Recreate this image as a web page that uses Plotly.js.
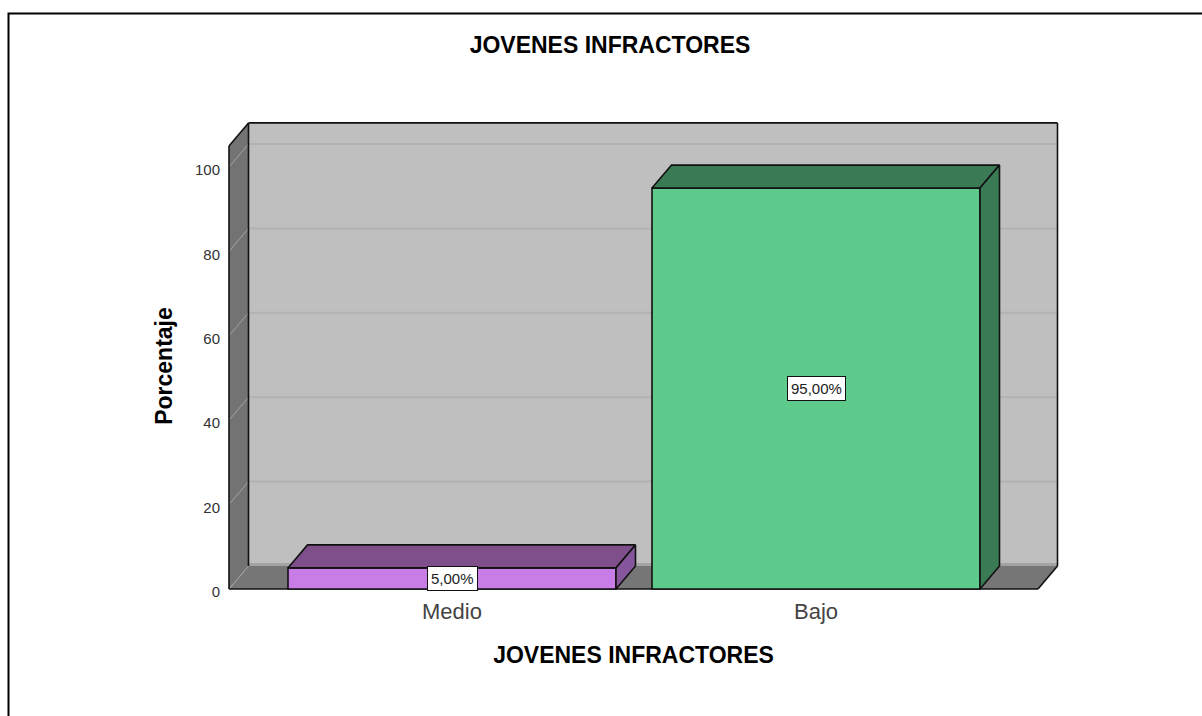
<!DOCTYPE html>
<html>
<head>
<meta charset="utf-8">
<script src="https://cdn.plot.ly/plotly-3.0.1.min.js"></script>
<style>html,body{margin:0;padding:0;background:#fff;overflow:hidden}</style>
</head>
<body>
<div id="chart" style="width:1202px;height:716px"></div>
<script>
const categories = ['Medio', 'Bajo'];
const values = [5, 95];
const yTicks = [0, 20, 40, 60, 80, 100];
const titleText = 'JOVENES INFRACTORES';
const xTitleText = 'JOVENES INFRACTORES';
const yTitleText = 'Porcentaje';
const frontColors = ['#c87de6', '#5ecb8c'];
const topColors = ['#7f4f8b', '#3a7a55'];
const sideColors = ['#85569b', '#3a7a55'];

// plot frame in pixels and the scales of the front plane
const W = 1202, H = 716;
const L = 206, R = 1061, T = 120, B = 612;
const xAt0 = 452, xPerUnit = 364, y0 = 589, yPerUnit = 4.22;
const dx = 19.5 / xPerUnit, dy = 23 / yPerUnit;      // depth of the 3D box
const barW = 328 / xPerUnit;
const xL = (229 - xAt0) / xPerUnit, xR = (1038 - xAt0) / xPerUnit, yTop = 105;
const xi = categories.map((c, i) => i);

const poly = (pts, fill, line) => ({
  type: 'path', layer: 'below', xref: 'x', yref: 'y',
  path: 'M' + pts.map(p => p[0] + ',' + p[1]).join('L') + 'Z',
  fillcolor: fill, line: line || {width: 0}
});
const seg = (x0, y0_, x1, y1, color, width) => ({
  type: 'line', layer: 'below', xref: 'x', yref: 'y', x0, y0: y0_, x1, y1,
  line: {color, width}
});
const px = x => (x - L) / (R - L), py = y => (B - y) / (B - T);

const shapes = [
  poly([[xL + dx, dy], [xR + dx, dy], [xR + dx, yTop + dy], [xL + dx, yTop + dy]], '#bfbfbf'),
  poly([[xL, 0], [xL + dx, dy], [xL + dx, yTop + dy], [xL, yTop]], '#737373'),
  poly([[xL, 0], [xR, 0], [xR + dx, dy], [xL + dx, dy]], '#767676')
];
yTicks.forEach(t => {
  if (t > 0) shapes.push(seg(xL + dx, t + dy, xR + dx, t + dy, '#b2b2b2', 2));
  shapes.push(seg(xL, t, xL + dx, t + dy, '#a3a3a3', 1));
});
shapes.push(seg(xL + dx, dy + 0.35, xR + dx, dy + 0.35, '#a3a3a3', 3));
[
  [xL, 0, xL, yTop], [xL, yTop, xL + dx, yTop + dy], [xL + dx, dy, xL + dx, yTop + dy],
  [xL + dx, yTop + dy, xR + dx, yTop + dy], [xR + dx, dy, xR + dx, yTop + dy],
  [xL, 0, xR, 0], [xR, 0, xR + dx, dy]
].forEach(s => shapes.push(seg(s[0], s[1], s[2], s[3], '#111', 1.6)));
// outer frame of the picture: its right and bottom edges fall outside the page
shapes.push({type: 'rect', xref: 'paper', yref: 'paper', layer: 'above',
  x0: px(8.5), x1: px(W + 20), y0: py(13.5), y1: py(H + 20),
  line: {color: '#000', width: 2}, fillcolor: 'rgba(0,0,0,0)'});

const traces = [{
  type: 'bar', x: xi, y: values, width: barW, showlegend: false, hoverinfo: 'skip',
  marker: {color: frontColors, line: {color: '#111', width: 1.6}}
}];
const face = (pts, color) => ({
  type: 'scatter', mode: 'lines', fill: 'toself', fillcolor: color, showlegend: false, hoverinfo: 'skip',
  x: pts.map(p => p[0]), y: pts.map(p => p[1]), line: {color: '#111', width: 1.6}
});
xi.forEach(i => {
  const a = i - barW / 2, b = i + barW / 2, v = values[i];
  traces.push(face([[a, v], [b, v], [b + dx, v + dy], [a + dx, v + dy], [a, v]], topColors[i]));
  traces.push(face([[b, 0], [b + dx, dy], [b + dx, v + dy], [b, v], [b, 0]], sideColors[i]));
});

const annotations = xi.map(i => ({
  x: i, y: values[i] / 2, xref: 'x', yref: 'y', showarrow: false,
  text: values[i].toFixed(2).replace('.', ',') + '%',
  font: {family: 'Liberation Sans, Arial, sans-serif', size: 15, color: '#222'},
  bgcolor: '#fff', bordercolor: '#111', borderwidth: 1, borderpad: 3
}));

const layout = {
  width: W, height: H, autosize: false,
  margin: {l: L, r: W - R, t: T, b: H - B, pad: 0},
  paper_bgcolor: '#fff', plot_bgcolor: 'rgba(0,0,0,0)',
  showlegend: false, bargap: 0,
  font: {family: 'Liberation Sans, Arial, sans-serif', color: '#111'},
  title: {text: titleText, x: 610 / W, xref: 'container', xanchor: 'center',
    y: 1 - 45 / H, yref: 'container', yanchor: 'middle',
    font: {size: 23, weight: 'bold', color: '#000'}},
  xaxis: {
    range: [(L - xAt0) / xPerUnit, (R - xAt0) / xPerUnit],
    anchor: 'free', position: py(589),
    tickmode: 'array', tickvals: xi, ticktext: categories,
    ticks: '', showgrid: false, zeroline: false, showline: false, fixedrange: true,
    tickfont: {size: 22, color: '#444'}, ticklabelstandoff: 7,
    title: {text: xTitleText, standoff: 23, font: {size: 23, weight: 'bold', color: '#000'}}
  },
  yaxis: {
    range: [(y0 - B) / yPerUnit, (y0 - T) / yPerUnit],
    anchor: 'free', position: px(229),
    tickmode: 'array', tickvals: yTicks,
    ticks: '', showgrid: false, zeroline: false, showline: false, fixedrange: true,
    tickfont: {size: 15, color: '#333'}, ticklabelstandoff: 9, ticklabelshift: 3,
    title: {text: yTitleText, standoff: 14, font: {size: 23, weight: 'bold', color: '#000'}}
  },
  shapes, annotations
};
Plotly.newPlot('chart', traces, layout, {displayModeBar: false, staticPlot: true});
</script>
</body>
</html>
